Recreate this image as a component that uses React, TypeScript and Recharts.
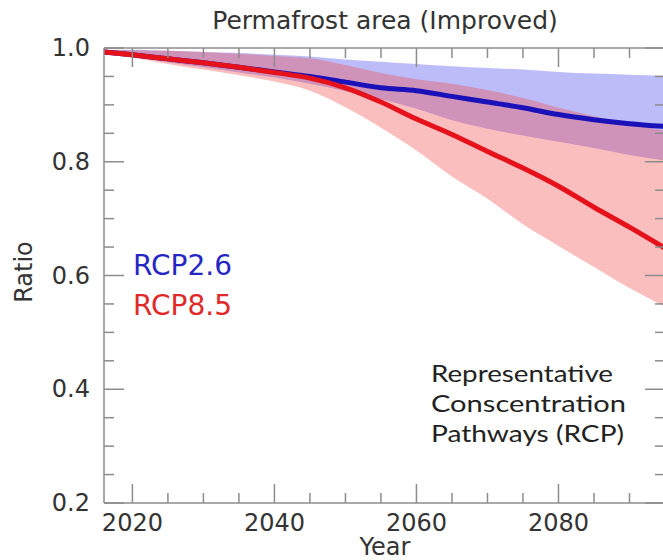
import React from 'react';
import { ComposedChart, Area, Line, XAxis, YAxis } from 'recharts';

const years = [2016, 2020, 2025, 2030, 2035, 2040, 2045, 2050, 2055, 2060, 2065, 2070, 2075, 2080, 2085, 2090, 2095];
const rcp26Mean = [0.993, 0.988, 0.981, 0.974, 0.966, 0.958, 0.950, 0.940, 0.930, 0.925, 0.915, 0.905, 0.895, 0.883, 0.874, 0.867, 0.862];
const rcp26High = [0.997, 0.997, 0.995, 0.993, 0.991, 0.988, 0.985, 0.980, 0.976, 0.972, 0.968, 0.965, 0.962, 0.958, 0.955, 0.953, 0.951];
const rcp26Low = [0.989, 0.984, 0.975, 0.966, 0.957, 0.948, 0.937, 0.924, 0.910, 0.893, 0.873, 0.858, 0.846, 0.835, 0.824, 0.812, 0.802];
const rcp85Mean = [0.993, 0.988, 0.981, 0.974, 0.966, 0.957, 0.947, 0.930, 0.905, 0.875, 0.848, 0.818, 0.789, 0.757, 0.720, 0.685, 0.648];
const rcp85High = [0.997, 0.996, 0.995, 0.993, 0.99, 0.986, 0.982, 0.970, 0.956, 0.945, 0.937, 0.926, 0.912, 0.895, 0.880, 0.866, 0.855];
const rcp85Low = [0.989, 0.983, 0.972, 0.962, 0.952, 0.941, 0.925, 0.896, 0.860, 0.820, 0.774, 0.735, 0.690, 0.652, 0.615, 0.578, 0.545];

const yTicks = [0.2, 0.25, 0.3, 0.35, 0.4, 0.45, 0.5, 0.55, 0.6, 0.65, 0.7, 0.75, 0.8, 0.85, 0.9, 0.95, 1.0];
const yMajor = [0.2, 0.4, 0.6, 0.8, 1.0];
const xTicks = [2020, 2025, 2030, 2035, 2040, 2045, 2050, 2055, 2060, 2065, 2070, 2075, 2080, 2085, 2090, 2095];
const xMajor = [2020, 2040, 2060, 2080];

const title = 'Permafrost area (Improved)';
const xLabel = 'Year';
const yLabel = 'Ratio';
const seriesNames = ['RCP2.6', 'RCP8.5'];
const noteLines = ['Representative', 'Conscentration', 'Pathways (RCP)'];

const data = years.map((year, i) => ({
  year,
  b: rcp26Mean[i],
  bBand: [rcp26Low[i], rcp26High[i]],
  r: rcp85Mean[i],
  rBand: [rcp85Low[i], rcp85High[i]],
}));

const AXIS = '#8c8c8c';
const TXT = '#333333';
const FONT = '"DejaVu Sans", Verdana, sans-serif';
const BLUE = '#1a12b8';
const RED = '#e5121b';

const near = (arr: number[], v: number) => arr.some((m) => Math.abs(m - v) < 1e-6);

const LeftTick = (props: any) => {
  const { x, y, payload } = props;
  const v = payload.value;
  const major = near(yMajor, v);
  return (
    <g>
      <line x1={x} x2={x + (major ? 20 : 10)} y1={y} y2={y} stroke={AXIS} strokeWidth={1.5} />
      {major && (
        <text x={x - 14} y={y} textAnchor="end" dominantBaseline="central" fontFamily={FONT} fontSize={24} fill={TXT}>
          {v.toFixed(1)}
        </text>
      )}
    </g>
  );
};

const RightTick = (props: any) => {
  const { x, y, payload } = props;
  const major = near(yMajor, payload.value);
  return <line x1={x} x2={x - (major ? 20 : 10)} y1={y} y2={y} stroke={AXIS} strokeWidth={1.5} />;
};

const BottomTick = (props: any) => {
  const { x, y, payload } = props;
  const v = payload.value;
  const major = near(xMajor, v);
  return (
    <g>
      <line x1={x} x2={x} y1={y} y2={y - (major ? 19 : 10)} stroke={AXIS} strokeWidth={1.5} />
      {major && (
        <text x={x} y={y + 20} textAnchor="middle" dominantBaseline="central" fontFamily={FONT} fontSize={24} fill={TXT}>
          {String(v)}
        </text>
      )}
    </g>
  );
};

const TopTick = (props: any) => {
  const { x, y, payload } = props;
  const major = near(xMajor, payload.value);
  return <line x1={x} x2={x} y1={y} y2={y + (major ? 19 : 10)} stroke={AXIS} strokeWidth={1.5} />;
};

export default function App() {
  return (
    <div style={{ position: 'absolute', left: 0, top: 0, width: 663, height: 560, overflow: 'hidden', background: '#fff' }}>
      <ComposedChart width={675} height={560} data={data} margin={{ top: 38, right: 0, bottom: 27, left: 44 }}>
        <XAxis
          dataKey="year"
          type="number"
          domain={[2016, 2095]}
          allowDataOverflow
          ticks={xTicks}
          interval={0}
          tickSize={0}
          tickMargin={0}
          height={30}
          tick={<BottomTick />}
          tickLine={false}
          axisLine={{ stroke: AXIS, strokeWidth: 1.5 }}
        />
        <XAxis
          xAxisId="top"
          orientation="top"
          dataKey="year"
          type="number"
          domain={[2016, 2095]}
          allowDataOverflow
          ticks={xTicks}
          interval={0}
          tickSize={0}
          tickMargin={0}
          height={10}
          tick={<TopTick />}
          tickLine={false}
          axisLine={{ stroke: AXIS, strokeWidth: 1.5 }}
        />
        <YAxis
          type="number"
          domain={[0.2, 1.0]}
          allowDataOverflow
          ticks={yTicks}
          interval={0}
          tickSize={0}
          tickMargin={0}
          width={60}
          tick={<LeftTick />}
          tickLine={false}
          axisLine={{ stroke: AXIS, strokeWidth: 1.5 }}
        />
        <YAxis
          yAxisId="right"
          orientation="right"
          type="number"
          domain={[0.2, 1.0]}
          allowDataOverflow
          ticks={yTicks}
          interval={0}
          tickSize={0}
          tickMargin={0}
          width={10}
          tick={<RightTick />}
          tickLine={false}
          axisLine={{ stroke: AXIS, strokeWidth: 1.5 }}
        />
        <Area dataKey="bBand" type="monotone" stroke="none" fill="#7272f2" fillOpacity={0.48} isAnimationActive={false} />
        <Area dataKey="rBand" type="monotone" stroke="none" fill="#f04a4a" fillOpacity={0.36} isAnimationActive={false} />
        <Line dataKey="b" type="monotone" stroke={BLUE} strokeWidth={5} dot={false} isAnimationActive={false} />
        <Line dataKey="r" type="monotone" stroke={RED} strokeWidth={5} dot={false} isAnimationActive={false} />
      </ComposedChart>
      <svg width={663} height={560} style={{ position: 'absolute', left: 0, top: 0, pointerEvents: 'none' }}>
        <text x={385} y={20} textAnchor="middle" dominantBaseline="central" fontFamily={FONT} fontSize={25} fill={TXT}>
          {title}
        </text>
        <text x={385} y={547} textAnchor="middle" dominantBaseline="central" fontFamily={FONT} fontSize={24} fill={TXT}>
          {xLabel}
        </text>
        <text
          x={24}
          y={272}
          textAnchor="middle"
          dominantBaseline="central"
          fontFamily={FONT}
          fontSize={24}
          fill={TXT}
          transform="rotate(-90 24 272)"
        >
          {yLabel}
        </text>
        <text x={133} y={265} dominantBaseline="central" fontFamily={FONT} fontSize={28} fill="#2626c4">
          {seriesNames[0]}
        </text>
        <text x={133} y={305} dominantBaseline="central" fontFamily={FONT} fontSize={28} fill="#e02a2a">
          {seriesNames[1]}
        </text>
        <text x={431} y={382} fontFamily="Lato, sans-serif" fontSize={24} fill="#222" textLength={182} lengthAdjust="spacingAndGlyphs">
          {noteLines[0]}
        </text>
        <text x={431} y={412} fontFamily="Lato, sans-serif" fontSize={24} fill="#222" textLength={195} lengthAdjust="spacingAndGlyphs">
          {noteLines[1]}
        </text>
        <text x={431} y={442} fontFamily="Lato, sans-serif" fontSize={24} fill="#222" textLength={193} lengthAdjust="spacingAndGlyphs">
          {noteLines[2]}
        </text>
      </svg>
    </div>
  );
}
